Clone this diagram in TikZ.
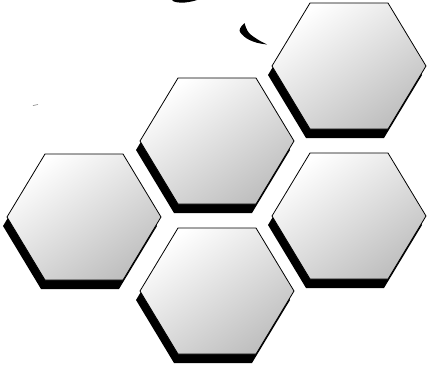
\documentclass[tikz,border=0pt]{standalone}
\begin{document}
\begin{tikzpicture}[x=1pt,y=-1pt,
  hexshadow/.style={fill=black},
  hexface/.style={draw=black,line width=0.8pt,top color=white,bottom color=gray!50,shading angle=35},
  hexcell/.pic={
    \fill[hexshadow] (-81,9) -- (-43,-54) -- (35,-54) -- (73,9) -- (35,72) -- (-43,72) -- cycle;
    \path[hexface] (-77,0) -- (-39,-63) -- (39,-63) -- (77,0) -- (39,63) -- (-39,63) -- cycle;
  }]
\useasboundingbox (0,0) rectangle (427,365);
% hexagons
\pic at (349,66) {hexcell};
\pic at (217,141) {hexcell};
\pic at (84,217) {hexcell};
\pic at (349,216) {hexcell};
\pic at (217,291) {hexcell};
% crescents
\fill[black] (244.5,23) .. controls (240,27) and (239,30) .. (240,32)
  .. controls (244,38) and (252,43) .. (267,44.5)
  .. controls (262,42) and (254,38) .. (249,33)
  .. controls (246,29) and (245.5,26) .. (244.5,23) -- cycle;
\fill[black] (172,0) .. controls (173,2) and (178,3) .. (185,2.5)
  .. controls (190,2) and (194,1) .. (197,0) -- cycle;
% small dash
\draw[gray,line width=0.6pt] (33,105.5) -- (38,104.5);
\end{tikzpicture}
\end{document}
